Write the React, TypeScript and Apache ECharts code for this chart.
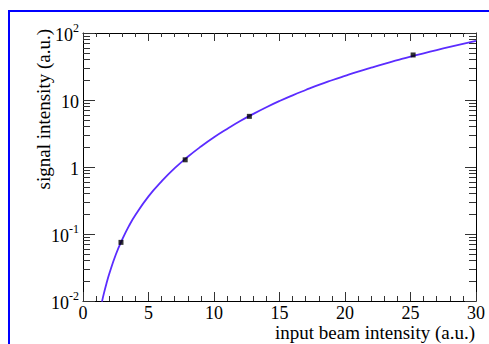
import React, { useEffect, useRef } from 'react';
import * as echarts from 'echarts';

// fitted curve
const curveX = [1.45, 1.6, 1.8, 2, 2.5, 3, 3.5, 4, 5, 6, 7, 8, 9, 10, 11, 12, 13, 14, 15, 16, 17, 18, 19, 20, 21, 22, 23, 24, 25, 26, 27, 28, 29, 30];
const curveY = [0.0098, 0.0131, 0.0185, 0.0253, 0.049, 0.083, 0.131, 0.192, 0.365, 0.61, 0.96, 1.42, 2.02, 2.78, 3.7, 4.85, 6.2, 7.8, 9.65, 11.75, 14.1, 16.8, 19.7, 22.9, 26.5, 30.4, 34.7, 39.3, 44.4, 49.8, 55.7, 62.0, 68.8, 76.0];

// measured points
const pointX = [2.9, 7.8, 12.7, 25.2];
const pointY = [0.075, 1.28, 5.7, 47];

const yMajorTicks = [0.01, 0.1, 1, 10, 100];
const yMinorTicks = [
  0.02, 0.03, 0.04, 0.05, 0.06, 0.07, 0.08, 0.09,
  0.2, 0.3, 0.4, 0.5, 0.6, 0.7, 0.8, 0.9,
  2, 3, 4, 5, 6, 7, 8, 9,
  20, 30, 40, 50, 60, 70, 80, 90,
];
const yTickLabels = ['{b|10}{s|-2}', '{b|10}{s|-1}', '{b|1}', '{b|10}', '{b|10}{s|2}'];
const xTitle = 'input beam intensity (a.u.)';
const yTitle = 'signal intensity (a.u.)';

const FONT = "'Liberation Serif', 'DejaVu Serif', serif";
const TICK = '#333';

export default function App() {
  const ref = useRef<HTMLDivElement>(null);
  useEffect(() => {
    if (!ref.current) return;
    const chart = echarts.init(ref.current, undefined, { renderer: 'svg' });
    const logAxis = (position: 'left' | 'right', ticks: number[], len: number, line: boolean, labels: boolean) => ({
      type: 'log',
      logBase: 10,
      min: 0.01,
      max: 100,
      position,
      axisLine: { show: line, lineStyle: { color: '#000', width: 1 } },
      axisTick: { show: true, inside: true, length: len, customValues: ticks, lineStyle: { color: TICK, width: 1 } },
      axisLabel: labels
        ? {
            show: true,
            customValues: yMajorTicks,
            margin: 4,
            formatter: (v: number) => {
              const i = yMajorTicks.findIndex((t) => Math.abs(Math.log10(t) - Math.log10(v)) < 1e-6);
              return i >= 0 ? yTickLabels[i] : '';
            },
            rich: {
              b: { fontFamily: FONT, fontSize: 18, color: '#000', lineHeight: 22, verticalAlign: 'bottom' },
              s: { fontFamily: FONT, fontSize: 12, color: '#000', lineHeight: 12, verticalAlign: 'top' },
            },
          }
        : { show: false },
      splitLine: { show: false },
      minorTick: { show: false },
    });
    const xAx = (position: 'top' | 'bottom', labels: boolean, len: number, mlen: number) => ({
      type: 'value',
      min: 0,
      max: 30,
      interval: 5,
      position,
      axisLine: { show: true, onZero: false, lineStyle: { color: '#000', width: 1 } },
      axisTick: { show: true, inside: true, length: len, lineStyle: { color: TICK, width: 1 } },
      minorTick: { show: true, splitNumber: 5, length: mlen, lineStyle: { color: TICK, width: 1 } },
      axisLabel: labels
        ? { show: true, fontFamily: FONT, fontSize: 18, lineHeight: 14, color: '#000', margin: 5 }
        : { show: false },
      splitLine: { show: false },
      minorSplitLine: { show: false },
    });
    chart.setOption({
      animation: false,
      backgroundColor: '#fff',
      grid: { left: 83, top: 33, right: 13, bottom: 43, containLabel: false },
      xAxis: [xAx('bottom', true, 9, 5), xAx('top', false, 8, 4)],
      yAxis: [
        logAxis('left', yMajorTicks, 12, true, true),
        logAxis('left', yMinorTicks, 7, false, false),
        logAxis('right', yMajorTicks, 11, true, false),
        logAxis('right', yMinorTicks, 7, false, false),
      ],
      series: [
        {
          type: 'line',
          xAxisIndex: 0,
          yAxisIndex: 0,
          data: curveX.map((x, i) => [x, curveY[i]]),
          showSymbol: false,
          smooth: true,
          clip: true,
          lineStyle: { color: '#5b2cff', width: 1.8 },
          z: 3,
        },
        {
          type: 'scatter',
          xAxisIndex: 0,
          yAxisIndex: 0,
          data: pointX.map((x, i) => [x, pointY[i]]),
          symbol: 'rect',
          symbolSize: 5,
          itemStyle: { color: '#000' },
          z: 4,
        },
      ],
      graphic: [
        {
          type: 'rect',
          shape: { x: 9, y: 11, width: 700, height: 600 },
          style: { fill: 'none', stroke: '#0000ff', lineWidth: 2 },
          silent: true,
          z: 10,
        },
        {
          type: 'text',
          x: 475,
          y: 332,
          style: { text: xTitle, font: `19px ${FONT}`, lineHeight: 14, fill: '#000', align: 'right', verticalAlign: 'middle' },
        },
        {
          type: 'text',
          x: 43,
          y: 29,
          rotation: Math.PI / 2,
          style: { text: yTitle, font: `19px ${FONT}`, fill: '#000', align: 'right', verticalAlign: 'middle' },
        },
      ],
    });
    return () => chart.dispose();
  }, []);
  return <div ref={ref} style={{ position: 'fixed', left: 0, top: 0, width: 489, height: 344 }} />;
}
